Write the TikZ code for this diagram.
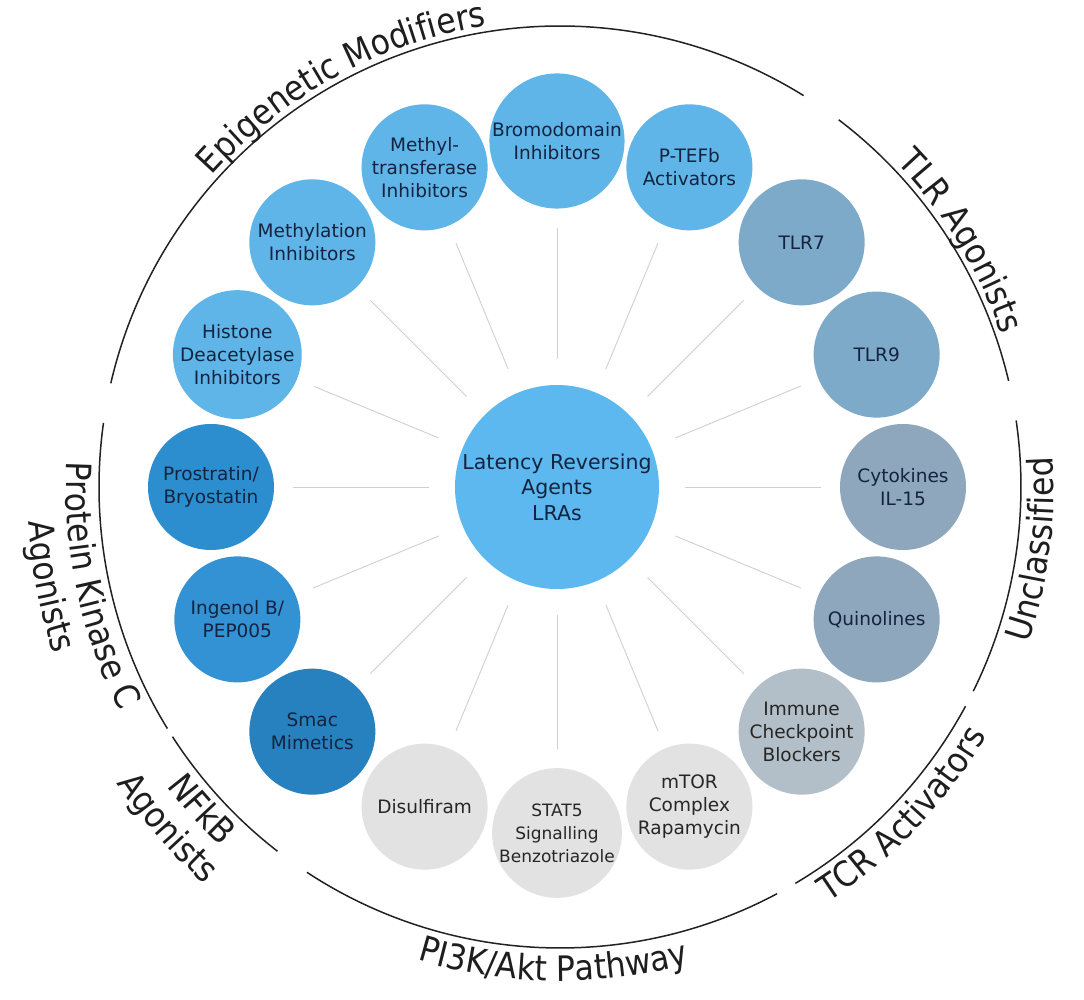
\documentclass[tikz,border=0pt]{standalone}
\usepackage{fontspec}
\setmainfont{DejaVu Sans}
\newfontfamily\grpfamily{DejaVu Sans Condensed}
\usetikzlibrary{decorations.text}
\definecolor{lrablue}{HTML}{5CB8EE}
\definecolor{epiblue}{HTML}{5FB5E8}
\definecolor{pkcblue}{HTML}{2D8ECF}
\definecolor{ingblue}{HTML}{3292D3}
\definecolor{smacblue}{HTML}{2781BE}
\definecolor{tlrgray}{HTML}{7DAAC9}
\definecolor{unclgray}{HTML}{8EA7BC}
\definecolor{tcrgray}{HTML}{B2BFC9}
\definecolor{pigray}{HTML}{E2E2E2}
\definecolor{navytext}{HTML}{14233F}
\definecolor{darktext}{HTML}{262626}
\definecolor{linkgray}{HTML}{D0D0D0}
\definecolor{arcblack}{HTML}{222222}
\definecolor{labeltext}{HTML}{1E1E1E}
\newcommand\grpfont{\grpfamily\fontsize{35}{42}\selectfont}
\begin{document}
\begin{tikzpicture}[x=1pt,y=1pt,
  agent/.style={circle, minimum size=126pt, inner sep=0pt, outer sep=0pt, align=center,
    font=\fontsize{18.5}{23}\selectfont, text=navytext},
  greyagent/.style={agent, text=darktext},
  link/.style={draw=linkgray, line width=0.9pt, shorten <=26pt, shorten >=19pt},
  grouparc/.style={draw=arcblack, line width=1.5pt},
  lbl/.style={color=labeltext, decorate, decoration={text along path, text align=center,
    text={|\grpfont\color{labeltext}|#1}}}
]
\useasboundingbox (-557,-513) rectangle (527,487);
\fill[white] (-557,-513) rectangle (527,487);

% centre
\node[circle, minimum size=204pt, inner sep=0pt, outer sep=0pt, fill=lrablue, align=center,
  text=navytext, font=\fontsize{20.5}{25.5}\selectfont] (lra) at (0,0) {Latency Reversing\\Agents\\LRAs};

% agents
\node[agent, fill=epiblue]  (brom)    at (90:346)    {Bromodomain\\Inhibitors};
\node[agent, fill=epiblue]  (ptefb)   at (67.5:346)  {P-TEFb\\Activators};
\node[agent, fill=tlrgray]  (tlrseven) at (45:346)   {TLR7};
\node[agent, fill=tlrgray]  (tlrnine) at (22.5:346)  {TLR9};
\node[agent, fill=unclgray] (cyto)    at (0:346)     {Cytokines\\IL-15};
\node[agent, fill=unclgray] (quin)    at (-22.5:346) {Quinolines};
\node[greyagent, fill=tcrgray]  (immune)  at (-45:346)   {Immune\\Checkpoint\\Blockers};
\node[greyagent, fill=pigray]   (mtor)    at (-67.5:346) {mTOR\\Complex\\Rapamycin};
\node[greyagent, fill=pigray, font=\fontsize{17}{23}\selectfont] (stat) at (-90:346) {STAT5\\Signalling\\Benzotriazole};
\node[greyagent, fill=pigray]   (disulf)  at (-112.5:346) {Disulfiram};
\node[agent, fill=smacblue] (smac)    at (-135:346)  {Smac\\Mimetics};
\node[agent, fill=ingblue]  (ingenol) at (-157.5:346) {Ingenol B/\\PEP005};
\node[agent, fill=pkcblue]  (prost)   at (180:346)   {Prostratin/\\Bryostatin};
\node[agent, fill=epiblue]  (histone) at (157.5:346) {Histone\\Deacetylase\\Inhibitors};
\node[agent, fill=epiblue]  (methyl)  at (135:346)   {Methylation\\Inhibitors};
\node[agent, fill=epiblue]  (mtrans)  at (112.5:346) {Methyl-\\transferase\\Inhibitors};

% connectors
\foreach \n in {brom,ptefb,tlrseven,tlrnine,cyto,quin,immune,mtor,stat,disulf,smac,ingenol,prost,histone,methyl,mtrans}
  \draw[link] (lra) -- (\n);

% group arcs
\begin{scope}[shift={(3,0)}]
\draw[grouparc] (167:461) arc[start angle=167, end angle=58.1, radius=461];
\draw[grouparc] (52.8:461) arc[start angle=52.8, end angle=13.3, radius=461];
\draw[grouparc] (8.3:461) arc[start angle=8.3, end angle=-26.3, radius=461];
\draw[grouparc] (-28.4:461) arc[start angle=-28.4, end angle=-59.3, radius=461];
\draw[grouparc] (-61.9:461) arc[start angle=-61.9, end angle=-123.3, radius=461];
\draw[grouparc] (-127.8:461) arc[start angle=-127.8, end angle=-147.2, radius=461];
\draw[grouparc] (-148.4:461) arc[start angle=-148.4, end angle=-188, radius=461];

% group labels
\path[lbl={Epigenetic Modifiers}] (168.6:467) arc[start angle=168.6, end angle=68.6, radius=467];
\path[lbl={TLR Agonists}] (81.5:467) arc[start angle=81.5, end angle=-18.5, radius=467];
\path[lbl={Unclassified}] (-57.5:494) arc[start angle=-57.5, end angle=42.5, radius=494];
\path[lbl={TCR Activators}] (-93.7:494) arc[start angle=-93.7, end angle=6.3, radius=494];
\path[lbl={PI3K/Akt Pathway}] (-140.8:494) arc[start angle=-140.8, end angle=-40.8, radius=494];
\path[lbl={NFkB}] (-188:494) arc[start angle=-188, end angle=-88, radius=494];
\path[lbl={Agonists}] (-189:533) arc[start angle=-189, end angle=-89, radius=533];
\path[lbl={Protein Kinase C}] (142:494) arc[start angle=142, end angle=242, radius=494];
\path[lbl={Agonists}] (141:533) arc[start angle=141, end angle=241, radius=533];
\end{scope}
\end{tikzpicture}
\end{document}
